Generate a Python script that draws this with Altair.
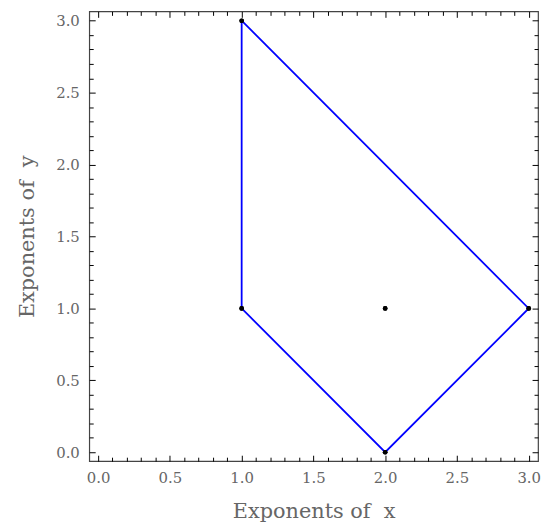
import altair as alt
import pandas as pd

# Newton polygon vertices (closed path)
poly_x = [1, 3, 2, 1, 1]
poly_y = [3, 1, 0, 1, 3]
# Exponent points
pt_x = [1, 1, 2, 3, 2]
pt_y = [3, 1, 0, 1, 1]

major_ticks = [0.0, 0.5, 1.0, 1.5, 2.0, 2.5, 3.0]
minor_ticks = [round(i * 0.1, 1) for i in range(0, 31)]

W, H = 453, 454
DOM = [-0.062, 3.065]
FONT = "DejaVu Serif"
GREY = "#666666"
NB = "\u00a0"

poly = pd.DataFrame({"x": poly_x, "y": poly_y, "o": list(range(len(poly_x)))})
pts = pd.DataFrame({"x": pt_x, "y": pt_y})

xs = alt.Scale(domain=DOM, nice=False, zero=False)
ys = alt.Scale(domain=DOM, nice=False, zero=False)

tick_cond = {"condition": {"test": "abs(datum.value*2 - round(datum.value*2)) < 0.001", "value": 6}, "value": 4}

label_x = alt.Axis(orient="bottom", values=major_ticks, format=".1f", ticks=False, domain=False,
                   grid=False, labelFont=FONT, labelFontSize=15, labelColor=GREY, labelPadding=10,
                   title="Exponents" + NB + "of" + NB + NB + "x", titleFont=FONT, titleFontSize=21,
                   titleFontWeight="normal", titleColor=GREY, titlePadding=15)
label_y = alt.Axis(orient="left", values=major_ticks, format=".1f", ticks=False, domain=False,
                   grid=False, labelFont=FONT, labelFontSize=15, labelColor=GREY, labelPadding=10,
                   title="Exponents" + NB + "of" + NB + NB + "y", titleFont=FONT, titleFontSize=21,
                   titleFontWeight="normal", titleColor=GREY, titlePadding=18)

def tick_axis(orient, offset):
    return alt.Axis(orient=orient, offset=offset, values=minor_ticks, labels=False, domain=False,
                    grid=False, title=None, tickColor="black", tickWidth=1, tickSize=tick_cond)

line = alt.Chart(poly).mark_line(color="#0000ff", strokeWidth=1.8).encode(
    x=alt.X("x:Q", scale=xs, axis=label_x),
    y=alt.Y("y:Q", scale=ys, axis=label_y),
    order="o:O",
)

pts1 = alt.Chart(pts).mark_circle(color="black", size=22, opacity=1).encode(
    x=alt.X("x:Q", scale=xs, axis=tick_axis("top", -H)),
    y=alt.Y("y:Q", scale=ys, axis=tick_axis("right", -W)),
)

pts2 = alt.Chart(pts).mark_circle(color="black", size=22, opacity=1).encode(
    x=alt.X("x:Q", scale=xs, axis=tick_axis("bottom", -H)),
    y=alt.Y("y:Q", scale=ys, axis=tick_axis("left", -W)),
)

chart = alt.layer(line, pts1, pts2).resolve_axis(x="independent", y="independent").properties(
    width=W, height=H, padding={"left": 9, "top": 0, "right": 0, "bottom": 0}
).configure_view(stroke="#444444", strokeWidth=1.2)

chart.save("out.html", embed_options={"renderer": "svg", "actions": False})
